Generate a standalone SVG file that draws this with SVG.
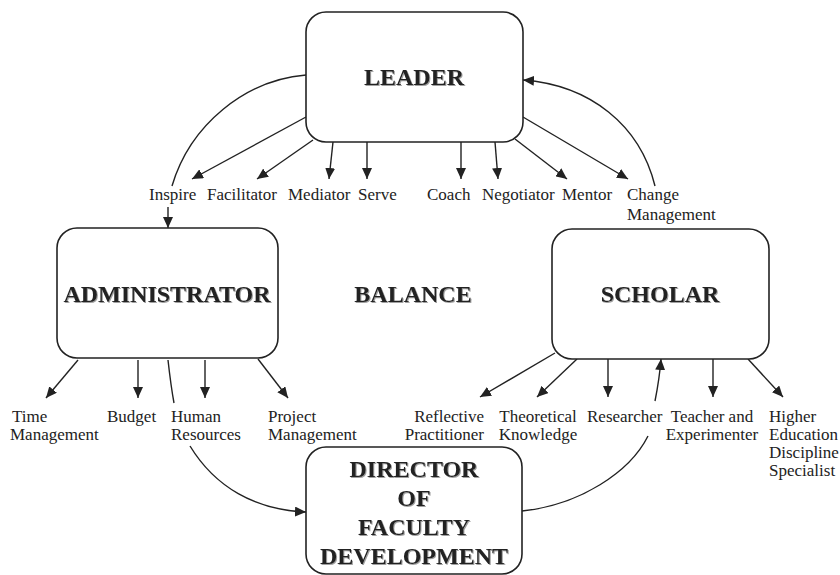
<svg xmlns="http://www.w3.org/2000/svg" width="840" height="575" viewBox="0 0 840 575">
<style>
.box{fill:#fff;stroke:#222;stroke-width:1.6}
.title{font-family:"Liberation Serif",serif;font-weight:bold;font-size:24px;fill:#222;text-anchor:middle;filter:url(#sh)}
.lbl{font-family:"Liberation Serif",serif;font-size:17px;fill:#222}
.c{fill:none;stroke:#222;stroke-width:1.4}
.a{marker-end:url(#ah)}
</style>
<defs>
<marker id="ah" markerUnits="userSpaceOnUse" markerWidth="12" markerHeight="10" refX="11" refY="5" orient="auto">
<path d="M0,0 L11,5 L0,10 z" fill="#222"/>
</marker>
<filter id="sh" x="-10%" y="-20%" width="120%" height="150%">
<feDropShadow dx="1" dy="1" stdDeviation="0.6" flood-color="#777" flood-opacity="0.7"/>
</filter>
</defs>

<g id="connectors">
<!-- leader outgoing -->
<path class="c" d="M306,75 C245,80 190,125 172,186"/>
<path class="c a" d="M168,207 L168,228"/>
<path class="c a" d="M306,117 L192,179"/>
<path class="c a" d="M313,140 L257,179"/>
<path class="c a" d="M333,142 L329,179"/>
<path class="c a" d="M367,142 L367,179"/>
<path class="c a" d="M461,142 L461,179"/>
<path class="c a" d="M495,142 L498,179"/>
<path class="c a" d="M515,139 L567,179"/>
<path class="c a" d="M523,117 L628,179"/>
<path class="c a" d="M655,186 C640,125 590,85 523,80"/>
<!-- administrator -->
<path class="c a" d="M78,360 L46,398"/>
<path class="c a" d="M138,360 L138,398"/>
<path class="c" d="M168,360 C170,378 172,392 174,403"/>
<path class="c a" d="M190,446 C215,487 255,510 306,512"/>
<path class="c a" d="M205,360 L205,398"/>
<path class="c a" d="M258,359 L288,398"/>
<!-- scholar -->
<path class="c a" d="M555,353 L480,397"/>
<path class="c a" d="M577,359 L537,397"/>
<path class="c a" d="M608,359 L608,397"/>
<path class="c a" d="M713,359 L713,397"/>
<path class="c a" d="M748,359 L783,397"/>
<path class="c" d="M522,511 C580,505 630,472 648,436"/>
<path class="c a" d="M655,401 C658,386 660,372 661,359"/>
</g>

<g id="leader">
<rect class="box" x="306" y="12" width="217" height="130" rx="20"/>
<text class="title" x="414" y="85">LEADER</text>
</g>
<g id="administrator">
<rect class="box" x="57" y="228" width="221" height="130" rx="20"/>
<text class="title" x="167" y="302">ADMINISTRATOR</text>
</g>
<g id="balance">
<text class="title" x="413" y="302">BALANCE</text>
</g>
<g id="scholar">
<rect class="box" x="552" y="229" width="217" height="130" rx="20"/>
<text class="title" x="660" y="302">SCHOLAR</text>
</g>
<g id="director">
<rect class="box" x="306" y="447" width="216" height="127" rx="20"/>
<text class="title" x="414" y="477">DIRECTOR</text>
<text class="title" x="414" y="506">OF</text>
<text class="title" x="414" y="535">FACULTY</text>
<text class="title" x="414" y="564">DEVELOPMENT</text>
</g>

<g id="leader-labels" class="lbl">
<text class="lbl" x="149" y="200">Inspire</text>
<text class="lbl" x="207" y="200">Facilitator</text>
<text class="lbl" x="288" y="200">Mediator</text>
<text class="lbl" x="358" y="200">Serve</text>
<text class="lbl" x="427" y="200">Coach</text>
<text class="lbl" x="482" y="200">Negotiator</text>
<text class="lbl" x="562" y="200">Mentor</text>
<text class="lbl" x="627" y="200">Change</text>
<text class="lbl" x="627" y="220">Management</text>
</g>
<g id="admin-labels">
<text class="lbl" x="12" y="422">Time</text>
<text class="lbl" x="10" y="440">Management</text>
<text class="lbl" x="107" y="422">Budget</text>
<text class="lbl" x="171" y="422">Human</text>
<text class="lbl" x="171" y="440">Resources</text>
<text class="lbl" x="268" y="422">Project</text>
<text class="lbl" x="268" y="440">Management</text>
</g>
<g id="scholar-labels">
<text class="lbl" x="484" y="422" text-anchor="end">Reflective</text>
<text class="lbl" x="484" y="440" text-anchor="end">Practitioner</text>
<text class="lbl" x="538" y="422" text-anchor="middle">Theoretical</text>
<text class="lbl" x="538" y="440" text-anchor="middle">Knowledge</text>
<text class="lbl" x="587" y="422">Researcher</text>
<text class="lbl" x="712" y="422" text-anchor="middle">Teacher and</text>
<text class="lbl" x="712" y="440" text-anchor="middle">Experimenter</text>
<text class="lbl" x="769" y="422">Higher</text>
<text class="lbl" x="769" y="440">Education</text>
<text class="lbl" x="769" y="458">Discipline</text>
<text class="lbl" x="769" y="476">Specialist</text>
</g>
</svg>
